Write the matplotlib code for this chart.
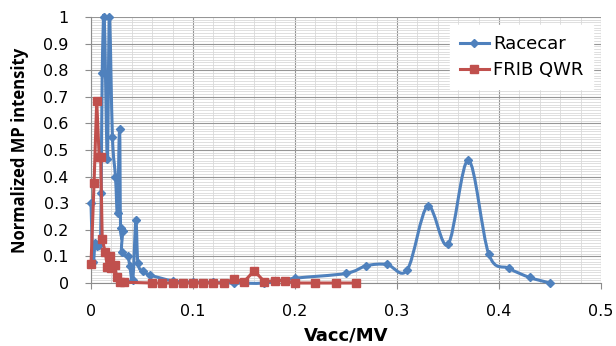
import numpy as np
import matplotlib.pyplot as plt
from matplotlib.path import Path
from matplotlib.patches import PathPatch
from matplotlib.lines import Line2D
from matplotlib.ticker import MultipleLocator

# -----Racecar (smoothed line)-----
racecar_v = [0.000, 0.002, 0.004, 0.006, 0.009, 0.010, 0.011, 0.013, 0.016, 0.018,
             0.021, 0.024, 0.026, 0.028, 0.029, 0.031, 0.030, 0.036, 0.038, 0.041,
             0.044, 0.046, 0.051, 0.058, 0.08, 0.10, 0.12, 0.14, 0.17, 0.20,
             0.25, 0.27, 0.29, 0.31, 0.33, 0.35, 0.37, 0.39, 0.41, 0.43, 0.45]
racecar_i = [0.30, 0.08, 0.15, 0.14, 0.145, 0.34, 0.79, 1.00, 0.465, 1.00,
             0.55, 0.40, 0.265, 0.58, 0.205, 0.195, 0.115, 0.10, 0.065, 0.012,
             0.235, 0.075, 0.045, 0.03, 0.008, 0.003, 0.002, 0.0, 0.0, 0.018,
             0.036, 0.065, 0.070, 0.049, 0.289, 0.145, 0.462, 0.108, 0.055, 0.021, 0.0]

# -----FRIB QWR (straight line)-----
frib_v = [0.000, 0.003, 0.0056, 0.008, 0.0095, 0.011, 0.014, 0.016, 0.019, 0.020,
          0.0235, 0.025, 0.028, 0.032, 0.06, 0.07, 0.08, 0.09, 0.10, 0.11,
          0.12, 0.13, 0.14, 0.15, 0.16, 0.17, 0.18, 0.19, 0.20, 0.22, 0.24, 0.26]
frib_i = [0.07, 0.375, 0.685, 0.475, 0.475, 0.164, 0.115, 0.06, 0.10, 0.055,
          0.068, 0.024, 0.005, 0.003, 0.0, 0.0, 0.0, 0.0, 0.0, 0.0,
          0.0, 0.0, 0.014, 0.005, 0.046, 0.005, 0.009, 0.009, 0.0, 0.0, 0.0, 0.0]

BLUE = '#4F81BD'
RED = '#C0504D'


def smooth_path(x, y):
    # Excel style smoothed line: bezier segments with catmull-rom control points
    pts = np.column_stack([x, y])
    n = len(pts)
    verts = [pts[0]]
    codes = [Path.MOVETO]
    for i in range(n - 1):
        p0 = pts[i - 1] if i > 0 else pts[i]
        p1 = pts[i]
        p2 = pts[i + 1]
        p3 = pts[i + 2] if i + 2 < n else pts[i + 1]
        verts += [p1 + (p2 - p0) / 6, p2 - (p3 - p1) / 6, p2]
        codes += [Path.CURVE4] * 3
    return Path(verts, codes)


plt.rcParams['font.family'] = ['DejaVu Sans']

fig = plt.figure(figsize=(6.16, 3.46), dpi=100)
ax = fig.add_axes([91 / 616, 1 - 283 / 346, 510 / 616, 266 / 346])

ax.set_xlim(0, 0.5)
ax.set_ylim(0, 1)
ax.xaxis.set_major_locator(MultipleLocator(0.1))
ax.xaxis.set_minor_locator(MultipleLocator(0.02))
ax.yaxis.set_major_locator(MultipleLocator(0.1))
ax.yaxis.set_minor_locator(MultipleLocator(0.01))
ax.grid(which='major', color='#969696', lw=0.8)
ax.grid(which='minor', color='#d9d9d9', lw=0.6)
ax.set_axisbelow(True)

for s in ['top', 'right']:
    ax.spines[s].set_visible(False)
for s in ['left', 'bottom']:
    ax.spines[s].set_color('#8c8c8c')
    ax.spines[s].set_linewidth(0.8)

ax.tick_params(which='major', length=4, color='#8c8c8c', labelsize=11.5)
ax.tick_params(axis='x', which='major', pad=11)
ax.tick_params(axis='y', which='major', pad=12)
ax.tick_params(which='minor', length=0)
ax.set_xticks(np.arange(0, 0.51, 0.1))
ax.set_xticklabels(['0', '0.1', '0.2', '0.3', '0.4', '0.5'])
ax.set_yticks(np.arange(0, 1.01, 0.1))
ax.set_yticklabels(['0', '0.1', '0.2', '0.3', '0.4', '0.5', '0.6', '0.7', '0.8', '0.9', '1'])

# racecar curve + markers
ax.add_patch(PathPatch(smooth_path(racecar_v, racecar_i), fill=False,
                       edgecolor=BLUE, lw=2.2, clip_on=False, zorder=3))
ax.plot(racecar_v, racecar_i, ls='none', marker='D', ms=4, color=BLUE,
        clip_on=False, zorder=4)

# FRIB line
ax.plot(frib_v, frib_i, color=RED, lw=2.2, marker='s', ms=5.5,
        clip_on=False, zorder=5)

ax.set_xlabel('Vacc/MV', fontsize=13, fontweight='bold')
ax.xaxis.set_label_coords(0.5, -0.163)
ax.set_ylabel('Normalized MP intensity', fontsize=12, fontweight='bold',
              family=['Open Sans', 'DejaVu Sans'])
ax.yaxis.set_label_coords(-0.122, 0.5)

handles = [Line2D([], [], color=BLUE, lw=2.2, marker='D', ms=4),
           Line2D([], [], color=RED, lw=2.2, marker='s', ms=5.5)]
leg = ax.legend(handles, ['Racecar', 'FRIB QWR'], loc='upper right',
                bbox_to_anchor=(0.985, 0.97), borderaxespad=0, fontsize=13,
                frameon=True, fancybox=False, edgecolor='white', framealpha=1,
                handlelength=1.6, handletextpad=0.25, labelspacing=0.45,
                borderpad=0.55)

fig.savefig('out.png', dpi=100)
